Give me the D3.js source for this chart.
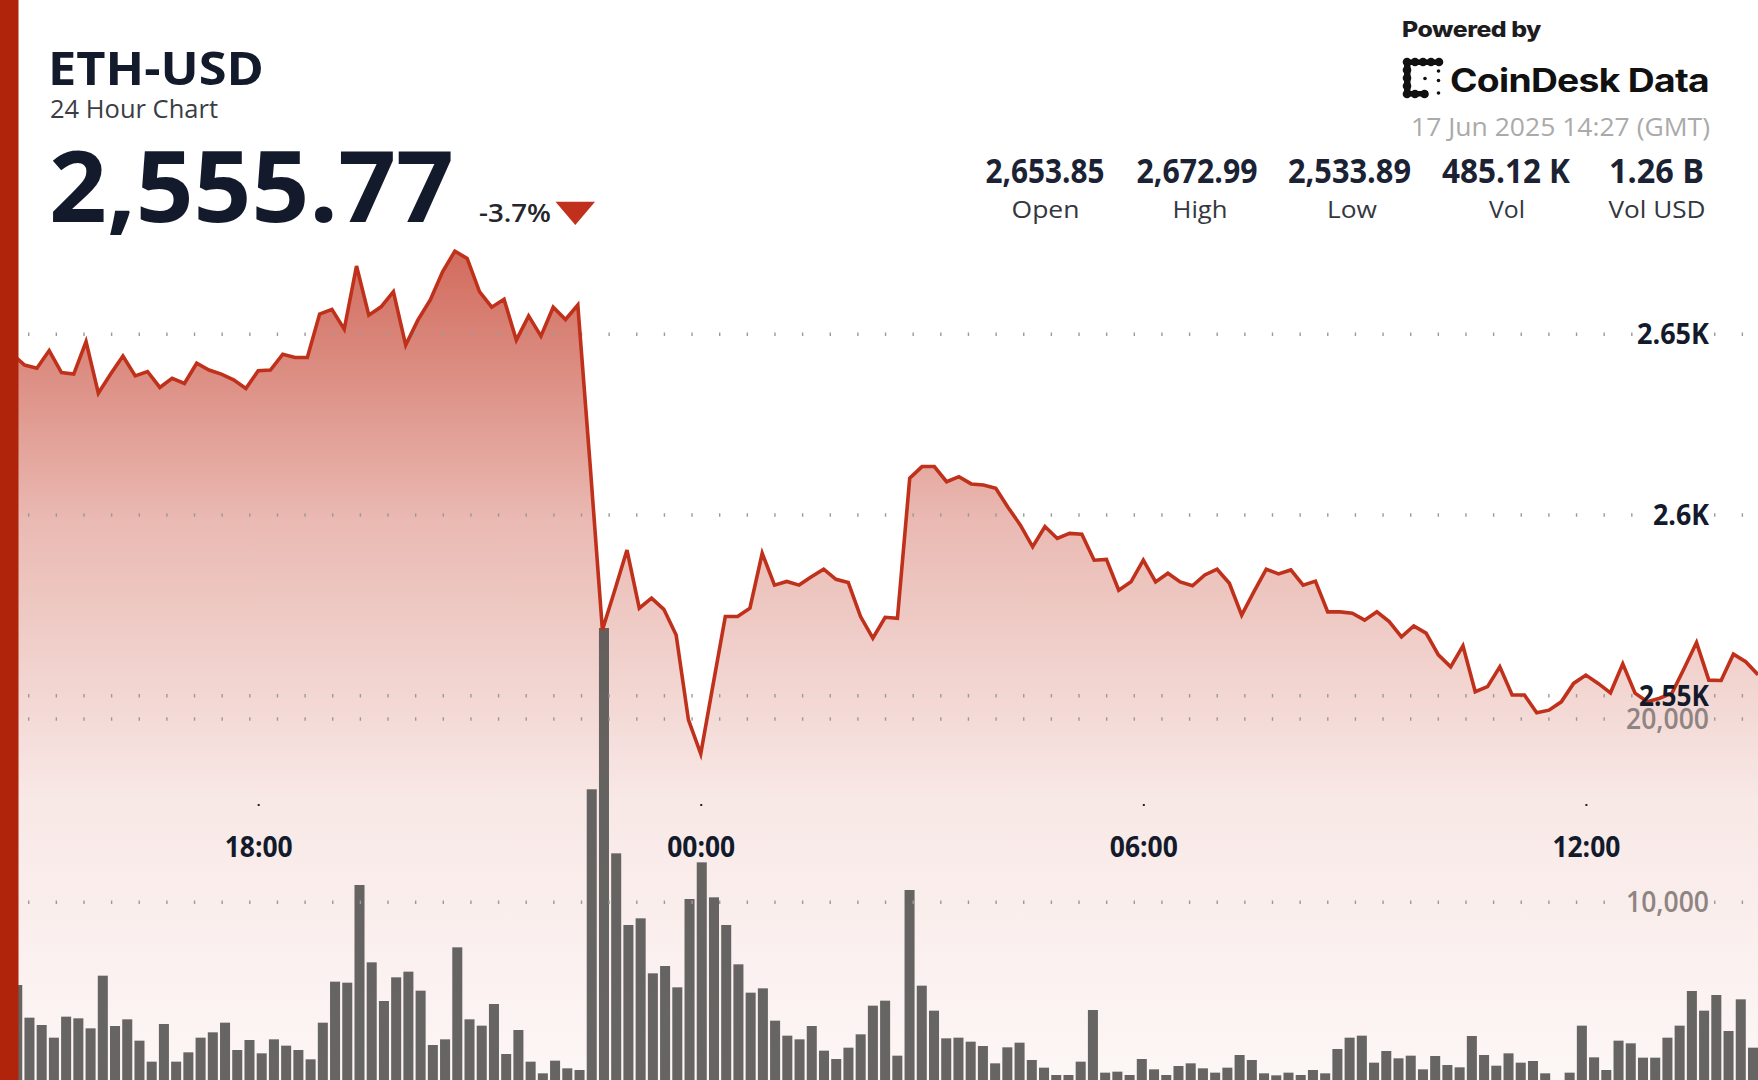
<!DOCTYPE html>
<html><head><meta charset="utf-8">
<script src="https://cdn.jsdelivr.net/npm/d3@7"></script>
<style>
html,body{margin:0;padding:0;background:#fff;overflow:hidden}
svg{display:block}
</style></head><body>
<svg id="chart" width="1758" height="1080"></svg>
<script>
// ---------- data ----------
const symbol = "ETH-USD";
const subtitle = "24 Hour Chart";
const lastPrice = "2,555.77";
const changeText = "-3.7%";
const poweredBy = "Powered by";
const brand = "CoinDesk Data";
const stampText = "17 Jun 2025 14:27 (GMT)";
const statValues = ["2,653.85", "2,672.99", "2,533.89", "485.12 K", "1.26 B"];
const statLabels = ["Open", "High", "Low", "Vol", "Vol USD"];

const startTime = "2025-06-16T14:30:00Z";   // first 10-minute sample
const stepMinutes = 10;

const prices = [
  2646.0, 2644.5, 2641.5, 2640.6, 2645.5, 2639.4, 2639.0, 2648.0, 2633.7, 2639.0,
  2644.0, 2638.5, 2639.7, 2635.3, 2637.8, 2636.4, 2642.0, 2640.1, 2639.0, 2637.4,
  2635.0, 2639.9, 2640.1, 2644.5, 2643.6, 2643.6, 2655.6, 2656.9, 2651.4, 2668.9,
  2655.3, 2657.6, 2661.8, 2647.0, 2654.0, 2659.5, 2667.3, 2673.0, 2671.0, 2661.8,
  2657.5, 2659.7, 2648.4, 2655.1, 2649.5, 2657.5, 2654.1, 2658.1, 2614.0, 2568.2,
  2579.1, 2590.3, 2574.2, 2577.0, 2573.9, 2566.8, 2543.3, 2533.9, 2553.0, 2571.9,
  2571.9, 2574.2, 2589.4, 2580.6, 2581.6, 2580.6, 2582.9, 2585.0, 2582.2, 2581.3,
  2571.9, 2565.9, 2571.7, 2571.4, 2610.2, 2613.4, 2613.4, 2609.2, 2610.6, 2608.6,
  2608.3, 2607.4, 2602.1, 2597.2, 2591.2, 2596.8, 2593.5, 2594.9, 2594.7, 2587.5,
  2587.7, 2579.2, 2581.5, 2587.5, 2581.5, 2583.9, 2581.5, 2580.4, 2583.4, 2585.0,
  2581.1, 2572.3, 2578.8, 2585.0, 2583.7, 2584.8, 2580.6, 2581.7, 2573.2, 2573.2,
  2572.8, 2570.9, 2573.2, 2570.5, 2566.3, 2569.3, 2567.3, 2561.3, 2558.0, 2563.8,
  2551.1, 2552.5, 2558.0, 2550.2, 2550.2, 2545.3, 2546.0, 2548.3, 2553.4, 2555.7,
  2553.4, 2550.8, 2558.8, 2550.7, 2548.3, 2549.3, 2550.7, 2557.6, 2564.7, 2554.3,
  2554.2, 2561.5, 2559.4, 2555.8
];

const volumes = [
  3500, 5488, 3706, 3306, 2615, 3761, 3670, 3124, 5997, 3251,
  3615, 2451, 1306, 3361, 1306, 1815, 2615, 2906, 3433, 1942,
  2488, 1760, 2524, 2179, 1942, 1433, 3433, 5670, 5615, 10944,
  6725, 4615, 5907, 6216, 5179, 2215, 2524, 7543, 3615, 3270,
  4452, 1724, 3033, 1306, 669, 1360, 942, 851, 16165, 24964,
  12671, 8762, 9125, 6125, 6525, 5361, 10180, 12180, 10271, 8762,
  6616, 5070, 5306, 3542, 2724, 2524, 3251, 1906, 1451, 2069,
  2797, 4361, 4633, 1633, 10671, 5452, 4088, 2579, 2615, 2397,
  2160, 1215, 2088, 2342, 1397, 978, 578, 578, 1306, 4124,
  706, 760, 578, 1451, 888, 578, 1069, 1215, 942, 706,
  978, 1669, 1397, 669, 560, 706, 578, 851, 669, 1997,
  2615, 2724, 1251, 1888, 1488, 1633, 888, 1615, 1124, 997,
  2706, 1669, 1087, 1760, 1251, 1342, 669, 306, 706, 3270,
  1542, 851, 2451, 2306, 1524, 1524, 2615, 3270, 5161, 4088,
  4943, 2979, 4706, 2069
];

const priceTicks = [2550, 2600, 2650];
const priceTickLabels = ["2.55K", "2.6K", "2.65K"];
const volumeTicks = [10000, 20000];
const volumeTickLabels = ["10,000", "20,000"];
const timeTicks = ["2025-06-16T18:00:00Z", "2025-06-17T00:00:00Z", "2025-06-17T06:00:00Z", "2025-06-17T12:00:00Z"];
const timeTickLabels = ["18:00", "00:00", "06:00", "12:00"];

// ---------- setup ----------
const W = 1758, H = 1080;
const svg = d3.select("#chart");
const FONT = "'Open Sans', 'Noto Sans', sans-serif";
const INK = "#131a2b";

const t0 = new Date(startTime);
const times = prices.map((_, i) => d3.utcMinute.offset(t0, i * stepMinutes));

const x = d3.scaleUtc().domain([times[0], times[times.length - 1]]).range([0, W]);
const xBand = d3.scaleBand().domain(d3.range(volumes.length)).range([0, W]).paddingInner(0.18).paddingOuter(0);
const yPrice = d3.scaleLinear().domain([2550, 2650]).range([695.7, 334.3]);
const yVol = d3.scaleLinear().domain([0, 20000]).range([1085.6, 719]);

function fit(sel, w) { return sel.attr("textLength", w).attr("lengthAdjust", "spacingAndGlyphs"); }

const defs = svg.append("defs");
const grad = defs.append("linearGradient").attr("id", "areaGrad")
  .attr("gradientUnits", "userSpaceOnUse").attr("x1", 0).attr("x2", 0).attr("y1", 250).attr("y2", 1080);
[[0, 0.72], [0.12, 0.585], [0.325, 0.34], [0.663, 0.11], [1, 0.04]].forEach(([o, a]) =>
  grad.append("stop").attr("offset", o).attr("stop-color", "#c0321e").attr("stop-opacity", a));

const mask = defs.append("mask").attr("id", "gridMask").attr("maskUnits", "userSpaceOnUse")
  .attr("x", 0).attr("y", 0).attr("width", W).attr("height", H);
mask.append("rect").attr("width", W).attr("height", H).attr("fill", "#fff");

// ---------- area + line ----------
const area = d3.area().x((d, i) => x(times[i])).y0(H + 10).y1(d => yPrice(d));
const line = d3.line().x((d, i) => x(times[i])).y(d => yPrice(d));

svg.append("path").datum(prices).attr("d", area).attr("fill", "url(#areaGrad)");

// ---------- volume bars ----------
svg.append("g").selectAll("rect").data(volumes).join("rect")
  .attr("x", (d, i) => xBand(i))
  .attr("width", xBand.bandwidth())
  .attr("y", d => yVol(d))
  .attr("height", d => yVol(0) - yVol(d))
  .attr("fill", "#4d4d4a")
  .attr("fill-opacity", 0.86);

// ---------- grid ----------
const grid = svg.append("g").attr("mask", "url(#gridMask)");
const gridYs = priceTicks.map(v => yPrice(v)).concat(volumeTicks.map(v => yVol(v)));
grid.selectAll("line").data(gridYs).join("line")
  .attr("x1", 28).attr("x2", W).attr("y1", d => d).attr("y2", d => d)
  .attr("stroke", "#9a9a9a").attr("stroke-width", 3.4)
  .attr("stroke-dasharray", "1.4 26.24");

// ---------- price line ----------
svg.append("path").datum(prices).attr("d", line)
  .attr("fill", "none").attr("stroke", "#c0311c").attr("stroke-width", 3.6);

// ---------- x axis ----------
const xAxis = d3.axisBottom(x)
  .tickValues(timeTicks.map(t => new Date(t)))
  .tickFormat((d, i) => timeTickLabels[i])
  .tickSize(2).tickPadding(0);
const gx = svg.append("g").attr("transform", "translate(0,804)").call(xAxis);
gx.select(".domain").remove();
gx.selectAll(".tick line").attr("stroke", "#222").attr("stroke-width", 2);
gx.selectAll(".tick text")
  .attr("y", 53).attr("dy", 0)
  .attr("font-family", FONT).attr("font-weight", 700).attr("font-size", 28)
  .attr("fill", INK)
  .call(fit, 68);

// ---------- y labels ----------
const yLab = svg.append("g");
yLab.selectAll("text.p").data(priceTicks).join("text")
  .attr("class", "p")
  .attr("x", 1709).attr("y", d => yPrice(d) + 10)
  .attr("text-anchor", "end")
  .attr("font-family", FONT).attr("font-weight", 700).attr("font-size", 28)
  .attr("fill", INK)
  .text((d, i) => priceTickLabels[i])
  .each(function (d, i) { d3.select(this).call(fit, [70, 56, 72][i]); });
yLab.selectAll("text.v").data(volumeTicks).join("text")
  .attr("class", "v")
  .attr("x", 1709).attr("y", d => yVol(d) + 9.7)
  .attr("text-anchor", "end")
  .attr("font-family", FONT).attr("font-weight", 600).attr("font-size", 28)
  .attr("fill", "#8e8482")
  .text((d, i) => volumeTickLabels[i])
  .call(fit, 83);
yLab.selectAll("text").each(function () {
  const b = this.getBBox();
  mask.append("rect").attr("x", b.x - 2).attr("y", b.y).attr("width", b.width + 4).attr("height", b.height).attr("fill", "#000");
});

// ---------- header ----------
svg.append("text").text(symbol)
  .attr("x", 48).attr("y", 85)
  .attr("font-family", FONT).attr("font-weight", 700).attr("font-size", 47)
  .attr("fill", INK).call(fit, 216);
svg.append("text").text(subtitle)
  .attr("x", 50).attr("y", 118.3)
  .attr("font-family", FONT).attr("font-weight", 400).attr("font-size", 25.6)
  .attr("fill", "#3a3d45").call(fit, 168);
svg.append("text").text(lastPrice)
  .attr("x", 49).attr("y", 221.7)
  .attr("font-family", FONT).attr("font-weight", 700).attr("font-size", 98)
  .attr("fill", INK).call(fit, 405);
svg.append("text").text(changeText)
  .attr("x", 479).attr("y", 221.7)
  .attr("font-family", FONT).attr("font-weight", 600).attr("font-size", 26)
  .attr("fill", "#24262c").call(fit, 72);
svg.append("path").attr("d", "M555.5,201.7L595,201.7L575.3,225Z").attr("fill", "#c0301c");

// Powered by / logo
svg.append("text").text(poweredBy)
  .attr("x", 1402).attr("y", 37)
  .attr("font-family", "Inter, 'Liberation Sans', sans-serif").attr("font-weight", 800).attr("font-size", 21.5)
  .attr("fill", "#1d1d1f").attr("letter-spacing", -0.4).call(fit, 139);
const logo = svg.append("g").attr("fill", "#111");
logo.append("rect").attr("x", 1404).attr("y", 60).attr("width", 6.5).attr("height", 36);
logo.append("rect").attr("x", 1404).attr("y", 59.5).attr("width", 36).attr("height", 5.5);
logo.append("rect").attr("x", 1404).attr("y", 91).attr("width", 24).attr("height", 5.5);
[[1407, 62], [1407, 70], [1407, 78], [1407, 86], [1407, 94],
 [1415, 62], [1423, 62], [1431, 62], [1439, 62],
 [1415, 94], [1424.5, 94]]
  .forEach(([cx, cy]) => logo.append("circle").attr("cx", cx).attr("cy", cy).attr("r", 4.3));
[[1425, 78.5], [1438.5, 71], [1438.5, 80.5], [1438.5, 93]]
  .forEach(([cx, cy]) => logo.append("circle").attr("cx", cx).attr("cy", cy).attr("r", 1.8));
svg.append("text").text(brand)
  .attr("x", 1450).attr("y", 91.7)
  .attr("font-family", "Inter, 'Liberation Sans', sans-serif").attr("font-weight", 700).attr("font-size", 32)
  .attr("fill", "#111").attr("letter-spacing", -0.6).call(fit, 259);
svg.append("text").text(stampText)
  .attr("x", 1710).attr("y", 136)
  .attr("text-anchor", "end")
  .attr("font-family", FONT).attr("font-weight", 400).attr("font-size", 24.7)
  .attr("fill", "#aaaaaa").call(fit, 299);

// stats
const statCenters = [1045, 1197, 1349.5, 1506, 1656.5];
const valueWidths = [119, 121, 123, 128, 95];
const labelWidths = [68, 55, 50, 36, 97];
svg.append("g").selectAll("text").data(statValues).join("text")
  .attr("x", (d, i) => statCenters[i]).attr("y", 182.5)
  .attr("text-anchor", "middle")
  .attr("font-family", FONT).attr("font-weight", 700).attr("font-size", 34)
  .attr("fill", "#1b2233")
  .text(d => d)
  .each(function (d, i) { d3.select(this).call(fit, valueWidths[i]); });
svg.append("g").selectAll("text").data(statLabels).join("text")
  .attr("x", (d, i) => statCenters[i] + [0.5, 3, 2.5, 1, 0.5][i]).attr("y", 218)
  .attr("text-anchor", "middle")
  .attr("font-family", FONT).attr("font-weight", 400).attr("font-size", 24)
  .attr("fill", "#34373e")
  .text(d => d)
  .each(function (d, i) { d3.select(this).call(fit, labelWidths[i]); });

// left accent bar
svg.append("rect").attr("x", 0).attr("y", 0).attr("width", 18.5).attr("height", H).attr("fill", "#b0240c");
</script>
</body></html>
